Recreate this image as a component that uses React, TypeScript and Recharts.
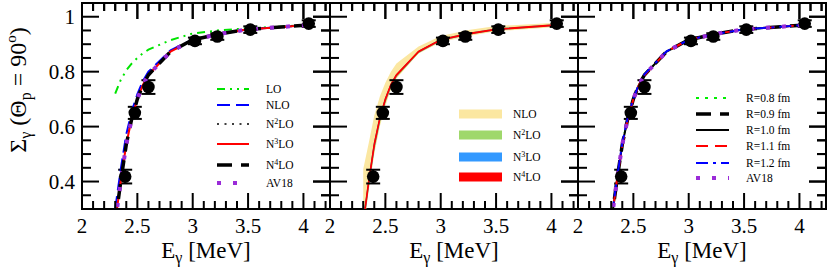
import React from 'react'
import { ComposedChart, Line, Area, Scatter, ErrorBar, XAxis, YAxis, ReferenceArea, ReferenceLine } from 'recharts'

const FONT = '"Liberation Serif", "Times New Roman", serif'
const serif = { fontFamily: FONT }

// photon energies (MeV) of the calculated curves
const energies = [2.30, 2.35, 2.40, 2.45, 2.50, 2.55, 2.60, 2.80, 3.00, 3.25, 3.50, 4.05]

// left panel: chiral orders + AV18
const loVals = [0.720, 0.770, 0.805, 0.830, 0.850, 0.867, 0.880, 0.915, 0.939, 0.951, 0.958, 0.970]
const nloVals = [0.300, 0.445, 0.572, 0.656, 0.718, 0.766, 0.800, 0.878, 0.917, 0.938, 0.954, 0.970]
const n2loVals = [0.258, 0.408, 0.541, 0.635, 0.703, 0.754, 0.790, 0.874, 0.916, 0.938, 0.954, 0.970]
const n3loVals = [0.252, 0.402, 0.536, 0.631, 0.700, 0.752, 0.788, 0.873, 0.916, 0.938, 0.954, 0.970]
const n4loVals = [0.250, 0.400, 0.535, 0.630, 0.700, 0.752, 0.788, 0.873, 0.916, 0.938, 0.954, 0.970]
const av18Vals = [0.250, 0.401, 0.535, 0.630, 0.700, 0.752, 0.788, 0.873, 0.916, 0.938, 0.954, 0.970]

// middle panel: truncation-error bands
const nloBandLow = [0.220, 0.370, 0.500, 0.600, 0.675, 0.735, 0.775, 0.866, 0.907, 0.930, 0.947, 0.963]
const nloBandHigh = [0.445, 0.540, 0.640, 0.710, 0.760, 0.800, 0.830, 0.892, 0.930, 0.952, 0.966, 0.978]
const n2loBandLow = [0.235, 0.385, 0.520, 0.618, 0.690, 0.744, 0.781, 0.869, 0.913, 0.936, 0.952, 0.968]
const n2loBandHigh = [0.258, 0.408, 0.541, 0.635, 0.703, 0.755, 0.790, 0.875, 0.918, 0.940, 0.956, 0.972]
const n3loBandLow = [0.243, 0.393, 0.528, 0.624, 0.695, 0.748, 0.785, 0.871, 0.914, 0.937, 0.953, 0.969]
const n3loBandHigh = [0.255, 0.405, 0.539, 0.633, 0.702, 0.754, 0.789, 0.874, 0.917, 0.939, 0.955, 0.971]
const n4loBandLow = [0.246, 0.396, 0.531, 0.627, 0.697, 0.750, 0.786, 0.872, 0.915, 0.937, 0.953, 0.969]
const n4loBandHigh = [0.254, 0.404, 0.538, 0.633, 0.702, 0.754, 0.789, 0.874, 0.917, 0.939, 0.955, 0.971]

// right panel: cutoff dependence
const r08Vals = [0.252, 0.402, 0.537, 0.631, 0.700, 0.752, 0.788, 0.873, 0.916, 0.938, 0.954, 0.970]
const r09Vals = [0.250, 0.400, 0.535, 0.630, 0.700, 0.752, 0.788, 0.873, 0.916, 0.938, 0.954, 0.970]
const r10Vals = [0.250, 0.400, 0.535, 0.630, 0.700, 0.752, 0.788, 0.873, 0.916, 0.938, 0.954, 0.970]
const r11Vals = [0.249, 0.399, 0.534, 0.629, 0.699, 0.751, 0.787, 0.873, 0.916, 0.938, 0.954, 0.970]
const r12Vals = [0.256, 0.406, 0.540, 0.634, 0.702, 0.754, 0.790, 0.874, 0.916, 0.938, 0.954, 0.970]

// experimental points
const expE = [2.39, 2.477, 2.60, 3.02, 3.222, 3.52, 4.048]
const expS = [0.418, 0.650, 0.744, 0.912, 0.928, 0.953, 0.975]
const expErr = [0.025, 0.022, 0.025, 0.012, 0.012, 0.012, 0.012]

const xTicks = [2, 2.1, 2.2, 2.3, 2.4, 2.5, 2.6, 2.7, 2.8, 2.9, 3, 3.1, 3.2, 3.3, 3.4, 3.5, 3.6, 3.7, 3.8, 3.9, 4, 4.1, 4.2]
const xMajor = [2, 2.5, 3, 3.5, 4]
const yTicks = [0.35, 0.4, 0.45, 0.5, 0.55, 0.6, 0.65, 0.7, 0.75, 0.8, 0.85, 0.9, 0.95, 1]
const yMajor = [0.4, 0.6, 0.8, 1]

const panel1Names = ['LO', 'NLO', 'N2LO', 'N3LO', 'N4LO', 'AV18']
const panel2Names = ['NLO', 'N2LO', 'N3LO', 'N4LO']
const panel3Names = ['R=0.8 fm', 'R=0.9 fm', 'R=1.0 fm', 'R=1.1 fm', 'R=1.2 fm', 'AV18']

const rows = energies.map((x, i) => ({
  x,
  lo: loVals[i],
  nlo: nloVals[i],
  n2lo: n2loVals[i],
  n3lo: n3loVals[i],
  n4lo: n4loVals[i],
  av18: av18Vals[i],
  bandNlo: [nloBandLow[i], nloBandHigh[i]],
  bandN2lo: [n2loBandLow[i], n2loBandHigh[i]],
  bandN3lo: [n3loBandLow[i], n3loBandHigh[i]],
  bandN4lo: [n4loBandLow[i], n4loBandHigh[i]],
  r08: r08Vals[i],
  r09: r09Vals[i],
  r10: r10Vals[i],
  r11: r11Vals[i],
  r12: r12Vals[i],
}))

const points = expE.map((x, i) => ({ x, y: expS[i], err: expErr[i] }))

const PURPLE = '#9a2bd8'
const lineStyles: any = {
  lo: { stroke: '#00e400', strokeWidth: 2, strokeDasharray: '8 5 2 5 2 5' },
  nlo: { stroke: '#0000ff', strokeWidth: 2, strokeDasharray: '13 6' },
  n2lo: { stroke: '#000', strokeWidth: 1.6, strokeDasharray: '2 5.5' },
  n3lo: { stroke: '#ff0000', strokeWidth: 2 },
  n4lo: { stroke: '#000', strokeWidth: 3.5, strokeDasharray: '15 9' },
  av18: { stroke: PURPLE, strokeWidth: 4, strokeDasharray: '4 12' },
  r08: { stroke: '#00ee00', strokeWidth: 2, strokeDasharray: '3 6' },
  r09: { stroke: '#000', strokeWidth: 3.5, strokeDasharray: '15 9' },
  r10: { stroke: '#000', strokeWidth: 2 },
  r11: { stroke: '#ff0000', strokeWidth: 2, strokeDasharray: '12 7' },
  r12: { stroke: '#0000ff', strokeWidth: 2, strokeDasharray: '12 5 3 5' },
}
const bandColors = ['#fbe7a1', '#9fd86b', '#3399ff', '#ff0000']

const X_DOMAIN = [2, 4.24]
const Y_DOMAIN = [0.3, 1.05]
const PLOT_TOP = 3
const PLOT_BOTTOM = 209
const PLOT_W = 248
const PLOT_H = PLOT_BOTTOM - PLOT_TOP

const isMajor = (v: number, majors: number[]) => majors.some((m) => Math.abs(m - v) < 1e-6)

// bottom axis: inward tick + label, plus the mirrored tick on the top frame
const bottomTick = (p: any) => {
  const major = isMajor(p.payload.value, xMajor)
  const len = major ? 16 : 8
  const top = p.y - PLOT_H
  return (
    <g>
      <line x1={p.x} x2={p.x} y1={p.y} y2={p.y - len} stroke="#000" strokeWidth={2} />
      <line x1={p.x} x2={p.x} y1={top} y2={top + len} stroke="#000" strokeWidth={2} />
      {major && (
        <text x={p.x} y={p.y + 24} textAnchor="middle" style={serif} fontSize={21} fill="#000">
          {String(p.payload.value)}
        </text>
      )}
    </g>
  )
}
// left axis: inward tick + label, plus the mirrored tick on the right frame
const leftTick = (labels: boolean) => (p: any) => {
  const major = isMajor(p.payload.value, yMajor)
  const len = major ? 17 : 9
  const right = p.x + PLOT_W
  return (
    <g>
      <line x1={p.x} x2={p.x + len} y1={p.y} y2={p.y} stroke="#000" strokeWidth={2} />
      <line x1={right} x2={right - len} y1={p.y} y2={p.y} stroke="#000" strokeWidth={2} />
      {major && labels && (
        <text x={p.x - 7} y={p.y + 7} textAnchor="end" style={serif} fontSize={21} fill="#000">
          {String(p.payload.value)}
        </text>
      )}
    </g>
  )
}

const yPerPx = (Y_DOMAIN[1] - Y_DOMAIN[0]) / PLOT_H
const xPerPx = (X_DOMAIN[1] - X_DOMAIN[0]) / PLOT_W
const frameTicks = () => [
  ...xTicks.map((v) => (
    <ReferenceLine
      key={`t${v}`}
      segment={[
        { x: v, y: Y_DOMAIN[1] },
        { x: v, y: Y_DOMAIN[1] - (isMajor(v, xMajor) ? 16 : 8) * yPerPx },
      ]}
      stroke="#000"
      strokeWidth={2}
      ifOverflow="visible"
    />
  )),
  ...yTicks.map((v) => (
    <ReferenceLine
      key={`r${v}`}
      segment={[
        { x: X_DOMAIN[1], y: v },
        { x: X_DOMAIN[1] - (isMajor(v, yMajor) ? 17 : 9) * xPerPx, y: v },
      ]}
      stroke="#000"
      strokeWidth={2}
      ifOverflow="visible"
    />
  )),
]

const XTitle = (p: any) => {
  const vb = p.viewBox
  return (
    <text x={vb.x + vb.width / 2} y={vb.y + 49} textAnchor="middle" style={serif} fontSize={23} fill="#000">
      E<tspan dy={5} fontSize={16}>γ</tspan>
      <tspan dy={-5}> [MeV]</tspan>
    </text>
  )
}

const YTitle = (p: any) => {
  const vb = p.viewBox
  const cx = vb.x + vb.width - 56
  const cy = vb.y + vb.height / 2 - 16
  return (
    <text transform={`translate(${cx},${cy}) rotate(-90)`} textAnchor="middle" style={serif} fontSize={24} fill="#000">
      Σ<tspan dy={5} fontSize={16}>γ</tspan>
      <tspan dy={-5}> (Θ</tspan>
      <tspan dy={5} fontSize={16}>p</tspan>
      <tspan dy={-5}> = 90</tspan>
      <tspan dy={-10} fontSize={15}>o</tspan>
      <tspan dy={10}>)</tspan>
    </text>
  )
}

const LegendLabel = ({ name, x, y }: { name: string; x: number; y: number }) => {
  const m = name.match(/^N(\d)LO$/)
  return (
    <text x={x} y={y} style={serif} fontSize={11.5} fill="#000">
      {m ? (
        <>
          N<tspan dy={-4.5} fontSize={8}>{m[1]}</tspan>
          <tspan dy={4.5}>LO</tspan>
        </>
      ) : (
        name
      )}
    </text>
  )
}

function LineLegend({ names, keys, rowsY, x0, x1, tx }: any) {
  return (
    <g>
      {names.map((n: string, i: number) => (
        <g key={n}>
          <line x1={x0} x2={x1} y1={rowsY[i]} y2={rowsY[i]} {...lineStyles[keys[i]]} />
          <LegendLabel name={n} x={tx} y={rowsY[i] + 4} />
        </g>
      ))}
    </g>
  )
}

function BandLegend() {
  const rowsY = [114, 135, 157, 177]
  return (
    <g>
      {panel2Names.map((n, i) => (
        <g key={n}>
          <rect x={459} y={rowsY[i] - 4.5} width={43} height={9} fill={bandColors[i]} />
          <LegendLabel name={n} x={513} y={rowsY[i] + 4} />
        </g>
      ))}
    </g>
  )
}

// axes are 1px thick so they render; margins shifted by that pixel
function Panel({ left, yLabels, children }: any) {
  return (
    <div style={{ position: 'absolute', left: 0, top: 0 }}>
      <ComposedChart
        width={830}
        height={272}
        data={rows}
        margin={{ top: PLOT_TOP, bottom: 272 - PLOT_BOTTOM - 1, left: left - 1, right: 830 - left - PLOT_W }}
      >
        <XAxis
          dataKey="x"
          type="number"
          domain={X_DOMAIN}
          allowDataOverflow
          ticks={xTicks}
          interval={0}
          height={1}
          tickSize={0}
          tickMargin={0}
          tickLine={false}
          axisLine={false}
          tick={bottomTick}
          label={XTitle}
        />
        <YAxis
          type="number"
          domain={Y_DOMAIN}
          allowDataOverflow
          ticks={yTicks}
          interval={0}
          width={1}
          tickSize={0}
          tickMargin={0}
          tickLine={false}
          axisLine={false}
          tick={leftTick(yLabels)}
          label={yLabels ? YTitle : undefined}
        />
        <ReferenceArea x1={X_DOMAIN[0]} x2={X_DOMAIN[1]} y1={Y_DOMAIN[0]} y2={Y_DOMAIN[1]} fill="none" stroke="#000" strokeWidth={2} ifOverflow="visible" />
        {frameTicks()}
        {children}
      </ComposedChart>
    </div>
  )
}

const dot = (p: any) => <circle cx={p.cx} cy={p.cy} r={6.3} fill="#000" />

const dataPoints = (
  <Scatter data={points} dataKey="y" shape={dot} isAnimationActive={false}>
    <ErrorBar dataKey="err" direction="y" width={7} strokeWidth={2} stroke="#000" isAnimationActive={false} />
  </Scatter>
)

const curve = (key: string) => (
  <Line key={key} type="linear" dataKey={key} dot={false} activeDot={false} isAnimationActive={false} {...lineStyles[key]} />
)

export default function App() {
  return (
    <div style={{ position: 'absolute', left: 0, top: 0, width: 830, height: 272, background: '#fff' }}>
      <Panel left={82} yLabels>
        {dataPoints}
        {['lo', 'nlo', 'n2lo', 'n3lo', 'n4lo', 'av18'].map(curve)}
      </Panel>

      <Panel left={330} yLabels={false}>
        <Area type="linear" dataKey="bandNlo" fill={bandColors[0]} fillOpacity={1} stroke="none" isAnimationActive={false} />
        <Area type="linear" dataKey="bandN2lo" fill={bandColors[1]} fillOpacity={1} stroke={bandColors[1]} strokeWidth={1} isAnimationActive={false} />
        <Area type="linear" dataKey="bandN3lo" fill={bandColors[2]} fillOpacity={1} stroke={bandColors[2]} strokeWidth={1} isAnimationActive={false} />
        <Area type="linear" dataKey="bandN4lo" fill={bandColors[3]} fillOpacity={1} stroke={bandColors[3]} strokeWidth={1.3} isAnimationActive={false} />
        {dataPoints}
      </Panel>

      <Panel left={578} yLabels={false}>
        {dataPoints}
        {['r08', 'r09', 'r10', 'r11', 'r12', 'av18'].map(curve)}
      </Panel>

      {/* legends of the three panels */}
      <svg width={830} height={272} style={{ position: 'absolute', left: 0, top: 0, pointerEvents: 'none' }}>
        <LineLegend
          names={panel1Names}
          keys={['lo', 'nlo', 'n2lo', 'n3lo', 'n4lo', 'av18']}
          rowsY={[89, 105, 124, 144, 165, 183]}
          x0={217}
          x1={249}
          tx={266}
        />
        <BandLegend />
        <LineLegend
          names={panel3Names}
          keys={['r08', 'r09', 'r10', 'r11', 'r12', 'av18']}
          rowsY={[98, 114, 130, 146, 163, 178]}
          x0={696}
          x1={729}
          tx={746}
        />
      </svg>
    </div>
  )
}
